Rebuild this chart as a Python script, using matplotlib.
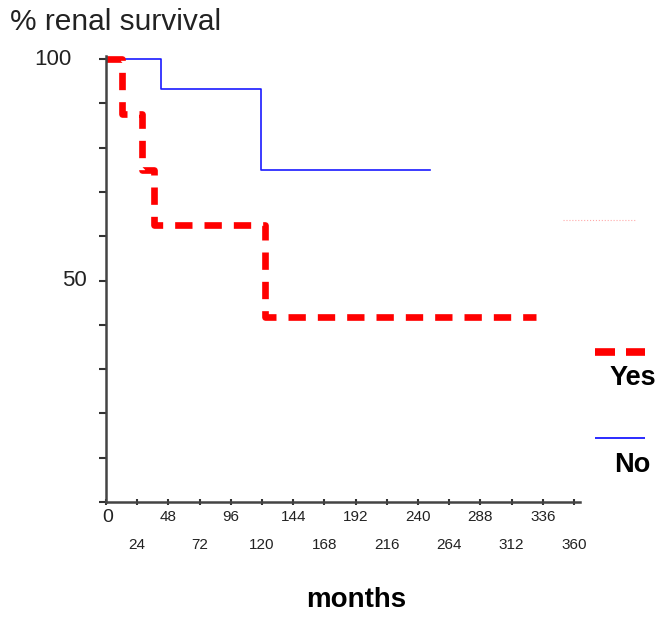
import matplotlib
matplotlib.use('Agg')
import matplotlib.pyplot as plt
import matplotlib.lines as mlines
import numpy as np

# Kaplan-Meier steps (months, % renal survival)
no_months = [0, 42, 119, 249]
no_surv = [100, 93.3, 75, 75]
yes_months = [0, 12, 28, 37, 122, 331]
yes_surv = [100, 87.5, 75, 62.5, 41.7, 41.7]

upper_ticks = [0, 48, 96, 144, 192, 240, 288, 336]
lower_ticks = [24, 72, 120, 168, 216, 264, 312, 360]
y_labels = [100, 50]

plt.rcParams['font.family'] = ['Liberation Sans', 'DejaVu Sans']

W, H = 665, 619
fig = plt.figure(figsize=(W / 100, H / 100), dpi=100)
ax = fig.add_axes([106 / W, (H - 502) / H, 474 / W, 446 / H])

ax.step(no_months, no_surv, where='post', color='#1a1aff', linewidth=1.2)
ax.step(yes_months, yes_surv, where='post', color='#ff0000', linewidth=4.8,
        dashes=(2.6, 1.8))

ax.set_xlim(0, 364.6)
ax.set_ylim(0, 100.7)

for side in ['top', 'right']:
    ax.spines[side].set_visible(False)
for side in ['left', 'bottom']:
    ax.spines[side].set_color('#444444')
    ax.spines[side].set_linewidth(1.8)

# y axis: ticks every 10, labels only at 50 and 100
ax.set_yticks(np.arange(0, 101, 10))
ax.set_yticklabels([])
ax.tick_params(axis='y', direction='out', length=5, width=1.5, color='#333333')
ytr = ax.get_yaxis_transform()
ax.text(-0.072, y_labels[0], str(y_labels[0]), transform=ytr, ha='right',
        va='center', fontsize=16, color='#222222')
ax.text(-0.040, y_labels[1], str(y_labels[1]), transform=ytr, ha='right',
        va='center', fontsize=16, color='#222222')

# x axis: alternating two rows of labels
ax.set_xticks(upper_ticks)
ax.set_xticks(lower_ticks, minor=True)
ax.set_xticklabels([''] + [str(t) for t in upper_ticks[1:]], fontsize=11,
                   color='#222222')
ax.set_xticklabels([str(t) for t in lower_ticks], minor=True, fontsize=11,
                   color='#222222')
ax.tick_params(axis='x', which='major', direction='inout', length=4, width=1.5,
               color='#333333', pad=4)
ax.tick_params(axis='x', which='minor', direction='inout', length=4, width=1.5,
               color='#333333', pad=24)
xtr = ax.get_xaxis_transform()
ax.text(upper_ticks[0] + 1, -0.035, '0', transform=xtr, ha='center',
        va='center', fontsize=14, color='#222222')

fig.text(10 / W, 1 - 22 / H, '% renal survival', fontsize=21.5, ha='left',
         va='center', color='#222222')
fig.text(356 / W, 1 - 600 / H, 'months', fontsize=20, fontweight='bold',
         ha='center', va='center')

# legend drawn by hand on the right
for x0, x1 in [(595, 615), (626, 645)]:
    fig.add_artist(mlines.Line2D([x0 / W, x1 / W], [1 - 352 / H] * 2,
                                 color='#ff0000', linewidth=5.5,
                                 solid_capstyle='butt',
                                 transform=fig.transFigure))
fig.add_artist(mlines.Line2D([595 / W, 645 / W], [1 - 438 / H] * 2,
                             color='#1a1aff', linewidth=1.3,
                             solid_capstyle='butt',
                             transform=fig.transFigure))
fig.add_artist(mlines.Line2D([563 / W, 635 / W], [1 - 220 / H] * 2,
                             color='#ffaaaa', linewidth=0.8, linestyle=':',
                             transform=fig.transFigure))
fig.text(633 / W, 1 - 378 / H, 'Yes', fontsize=19.5, fontweight='bold',
         ha='center', va='center')
fig.text(632 / W, 1 - 465 / H, 'No', fontsize=19.5, fontweight='bold',
         ha='center', va='center')

fig.savefig('out.png', dpi=100)
